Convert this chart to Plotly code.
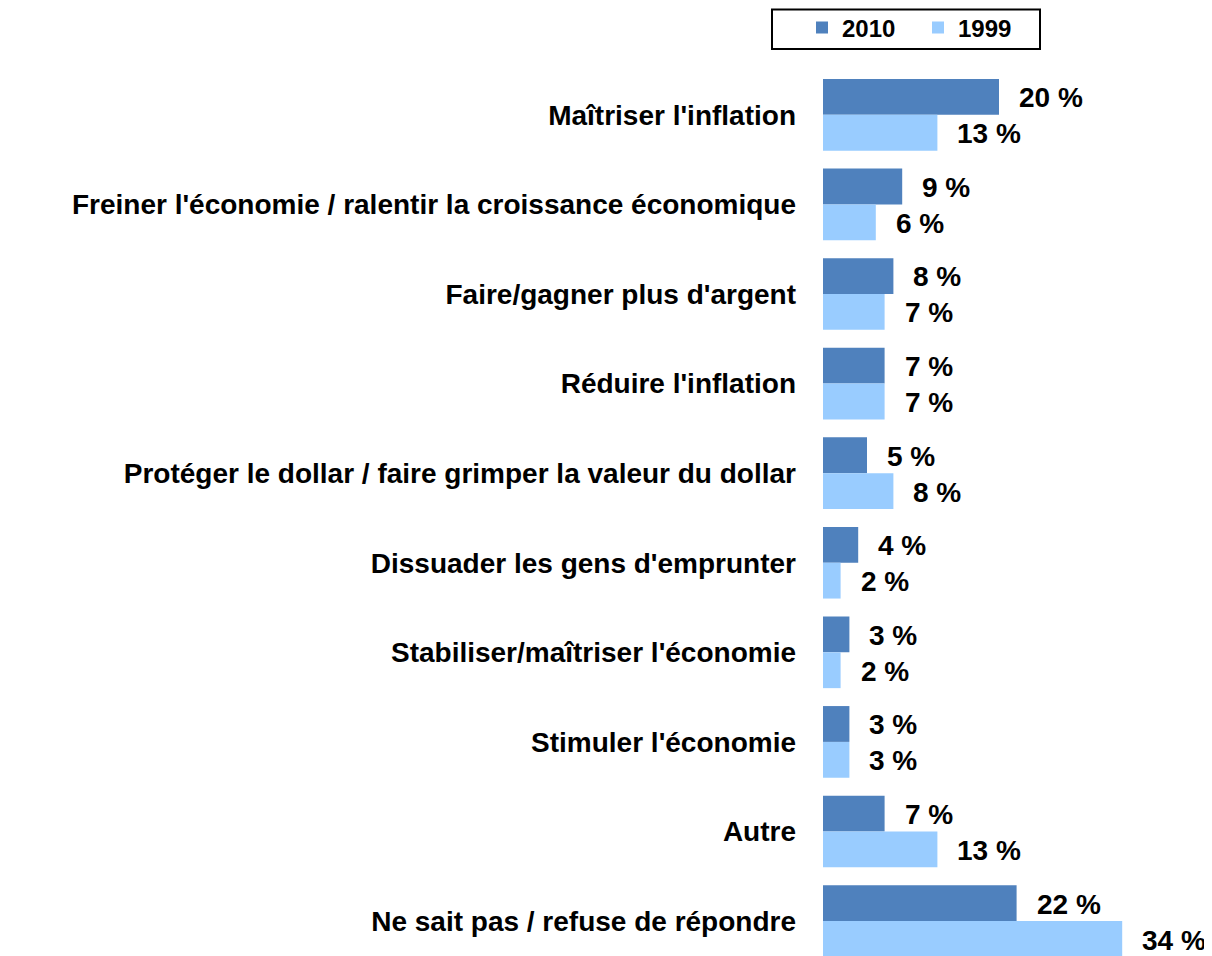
import plotly.graph_objects as go

categories = [
    "Maîtriser l'inflation",
    "Freiner l'économie / ralentir la croissance économique",
    "Faire/gagner plus d'argent",
    "Réduire l'inflation",
    "Protéger le dollar / faire grimper la valeur du dollar",
    "Dissuader les gens d'emprunter",
    "Stabiliser/maîtriser l'économie",
    "Stimuler l'économie",
    "Autre",
    "Ne sait pas / refuse de répondre",
]
values_2010 = [20, 9, 8, 7, 5, 4, 3, 3, 7, 22]
values_1999 = [13, 6, 7, 7, 8, 2, 2, 3, 13, 34]

COLOR_2010 = "#4F81BD"
COLOR_1999 = "#99CCFF"
FONT = "Liberation Sans, Arial, sans-serif"

OFF = 8  # default page body margin
W, H = 1212 - OFF, 956 - OFF
ML, MR, MT, MB = 823 - OFF, 37, 70 - OFF, 0
XMAX = 40
pw = W - ML - MR
ph = H - MT - MB

def px_x(p):
    return (p - OFF - ML) / pw

def px_y(p):
    return (H - MB - (p - OFF)) / ph

fig = go.Figure()
fig.add_trace(go.Bar(name="2010", y=categories, x=values_2010, orientation="h",
                     marker=dict(color=COLOR_2010, line=dict(width=0))))
fig.add_trace(go.Bar(name="1999", y=categories, x=values_1999, orientation="h",
                     marker=dict(color=COLOR_1999, line=dict(width=0))))

annotations = []
for c, v in zip(categories, values_2010):
    annotations.append(dict(x=v, y=c, xref="x", yref="y", text=f"{v} %", showarrow=False,
                            xanchor="left", yanchor="middle", xshift=18, yshift=17,
                            font=dict(family=FONT, size=28, color="black", weight="bold")))
for c, v in zip(categories, values_1999):
    annotations.append(dict(x=v, y=c, xref="x", yref="y", text=f"{v} %", showarrow=False,
                            xanchor="left", yanchor="middle", xshift=18, yshift=-19,
                            font=dict(family=FONT, size=28, color="black", weight="bold")))

fig.update_layout(
    width=W, height=H,
    margin=dict(l=ML, r=MR, t=MT, b=MB, autoexpand=False),
    plot_bgcolor="white", paper_bgcolor="white",
    barmode="group", bargap=0.2, bargroupgap=0,
    xaxis=dict(range=[0, XMAX], visible=False, fixedrange=True),
    yaxis=dict(range=[9.39, -0.5], showgrid=False, zeroline=False, showline=False,
               ticks="", ticklabelstandoff=26,
               tickfont=dict(family=FONT, size=28, color="black", weight="bold")),
    showlegend=True,
    legend=dict(orientation="h", x=px_x(802), xanchor="left", y=px_y(28), yanchor="middle",
                bgcolor="rgba(0,0,0,0)", borderwidth=0, entrywidth=71, traceorder="normal",
                font=dict(family=FONT, size=24, color="black", weight="bold")),
    shapes=[dict(type="rect", xref="paper", yref="paper",
                 x0=px_x(772), x1=px_x(1040), y0=px_y(49), y1=px_y(9.5),
                 line=dict(color="black", width=2), fillcolor="rgba(0,0,0,0)", layer="below")],
    annotations=annotations,
)

fig.write_html("out.html")
